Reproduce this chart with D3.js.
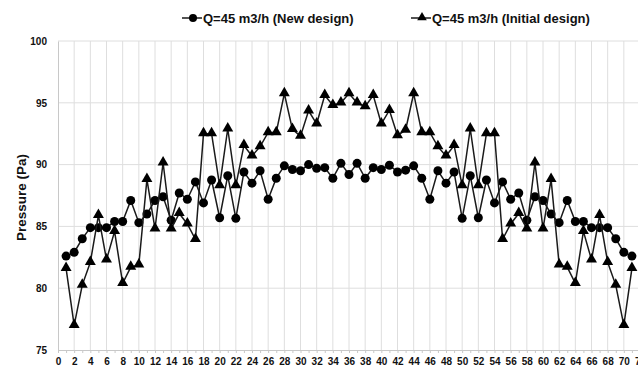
<!DOCTYPE html>
<html>
<head>
<meta charset="utf-8">
<script src="https://cdn.jsdelivr.net/npm/d3@7"></script>
<style>
  body { margin: 0; background: #fff; }
  svg { display: block; font-family: "Liberation Sans", Arial, sans-serif; }
</style>
</head>
<body>
<div id="chart"></div>
<script>
// positions along the pipe (1..71)
const positions = d3.range(1, 72);

// Q=45 m3/h (New design)
const newDesign = [
  82.6, 82.9, 84.0, 84.9, 84.9, 84.9, 85.4, 85.4, 87.1, 85.3,
  86.0, 87.1, 87.4, 85.5, 87.7, 87.2, 88.6, 86.9, 88.75, 85.7,
  89.1, 85.65, 89.4, 88.5, 89.5, 87.2, 88.9, 89.9, 89.6, 89.5,
  90.0, 89.7, 89.75, 88.9, 90.1, 89.2, 90.1, 88.9, 89.75, 89.6,
  89.95, 89.4, 89.55, 89.9, 88.9, 87.2, 89.5, 88.5, 89.4, 85.65,
  89.1, 85.7, 88.75, 86.9, 88.6, 87.2, 87.7, 85.5, 87.4, 87.1,
  86.0, 85.3, 87.1, 85.4, 85.4, 84.9, 84.9, 84.9, 84.0, 82.9,
  82.6
];

// Q=45 m3/h (Initial design)
const initialDesign = [
  81.6, 77.0, 80.25, 82.1, 85.9, 82.3, 84.6, 80.4, 81.7, 81.9,
  88.8, 84.8, 90.15, 84.8, 86.05, 85.2, 83.95, 92.5, 92.5, 88.3,
  92.9, 88.3, 91.55, 90.7, 91.45, 92.6, 92.6, 95.75, 92.85, 92.3,
  94.35, 93.3, 95.6, 94.8, 95.0, 95.75, 95.0, 94.7, 95.6, 93.3,
  94.4, 92.35, 92.8, 95.75, 92.6, 92.6, 91.45, 90.7, 91.55, 88.3,
  92.9, 88.3, 92.5, 92.5, 83.95, 85.2, 86.05, 84.8, 90.15, 84.8,
  88.8, 81.9, 81.7, 80.4, 84.6, 82.3, 85.9, 82.1, 80.25, 77.0,
  81.6
];

const xTicks = d3.range(0, 73, 2);
const yTicks = [75, 80, 85, 90, 95, 100];
const seriesNames = ["Q=45 m3/h (New design)", "Q=45 m3/h (Initial design)"];

const W = 638, H = 369;
const margin = { top: 41, right: -2, bottom: 19, left: 58 };
const width = W - margin.left - margin.right,
      height = H - margin.top - margin.bottom;

const svg = d3.select("#chart").append("svg")
  .attr("width", W).attr("height", H);

const g = svg.append("g")
  .attr("transform", `translate(${margin.left},${margin.top})`);

const x = d3.scaleLinear().domain([0, 72]).range([0, width]);
const y = d3.scaleLinear().domain([75, 100]).range([height, 0]);

// grid
g.append("g").selectAll("line")
  .data(xTicks.filter(d => d > 0))
  .join("line")
  .attr("x1", d => x(d)).attr("x2", d => x(d))
  .attr("y1", 0).attr("y2", height)
  .attr("stroke", "#dedede").attr("stroke-width", 1);

g.append("g").selectAll("line")
  .data(yTicks.filter(d => d > 75))
  .join("line")
  .attr("x1", 0).attr("x2", width)
  .attr("y1", d => y(d)).attr("y2", d => y(d))
  .attr("stroke", "#dedede").attr("stroke-width", 1);

// x axis with minor ticks each unit
const xAxis = g.append("g")
  .attr("transform", `translate(0,${height})`)
  .call(d3.axisBottom(x).tickValues(d3.range(0, 73)).tickSize(3)
    .tickFormat(d => d % 2 === 0 ? d : ""));
xAxis.select(".domain").attr("stroke", "#c8c8c8");
xAxis.selectAll(".tick line").attr("stroke", "#c8c8c8");
xAxis.selectAll("text")
  .attr("y", 8)
  .attr("fill", "#111")
  .style("font-size", "10px")
  .style("font-weight", "bold");

const yAxis = g.append("g")
  .call(d3.axisLeft(y).tickValues(yTicks).tickSize(0).tickPadding(11));
yAxis.select(".domain").attr("stroke", "#c8c8c8");
yAxis.selectAll("text")
  .attr("fill", "#111")
  .style("font-size", "10px")
  .style("font-weight", "bold");

svg.append("text")
  .attr("transform", `translate(26,${margin.top + height / 2 + 2}) rotate(-90)`)
  .attr("text-anchor", "middle")
  .attr("fill", "#111")
  .style("font-size", "13.5px")
  .style("font-weight", "bold")
  .text("Pressure (Pa)");

// series
const line = d3.line().x((d, i) => x(positions[i])).y(d => y(d));
const tri = d3.symbol().type(d3.symbolTriangle).size(52);

g.append("path").datum(newDesign)
  .attr("d", line).attr("fill", "none")
  .attr("stroke", "#1a1a1a").attr("stroke-width", 1.5);
g.append("g").selectAll("circle")
  .data(newDesign)
  .join("circle")
  .attr("cx", (d, i) => x(positions[i]))
  .attr("cy", d => y(d))
  .attr("r", 4.5)
  .attr("fill", "#000");

g.append("path").datum(initialDesign)
  .attr("d", line).attr("fill", "none")
  .attr("stroke", "#1a1a1a").attr("stroke-width", 1.5);
g.append("g").selectAll("path")
  .data(initialDesign)
  .join("path")
  .attr("d", tri)
  .attr("transform", (d, i) => `translate(${x(positions[i])},${y(d) - 0.5})`)
  .attr("fill", "#000");

// legend
const legend = svg.append("g").attr("transform", "translate(0,18)");
const items = [
  { name: seriesNames[0], x: 182, shape: "circle" },
  { name: seriesNames[1], x: 411, shape: "triangle" }
];
items.forEach(it => {
  const lg = legend.append("g").attr("transform", `translate(${it.x},0)`);
  lg.append("line").attr("x1", 0).attr("x2", 20).attr("y1", 0).attr("y2", 0)
    .attr("stroke", "#1a1a1a").attr("stroke-width", 1.5);
  if (it.shape === "circle") {
    lg.append("circle").attr("cx", 11).attr("cy", 0).attr("r", 4).attr("fill", "#000");
  } else {
    lg.append("path").attr("d", d3.symbol().type(d3.symbolTriangle).size(40))
      .attr("transform", "translate(11,-0.5)").attr("fill", "#000");
  }
  lg.append("text").attr("x", 21).attr("y", 4.5)
    .attr("fill", "#111")
    .style("font-size", "13px")
    .style("font-weight", "bold")
    .text(it.name);
});
</script>
</body>
</html>
